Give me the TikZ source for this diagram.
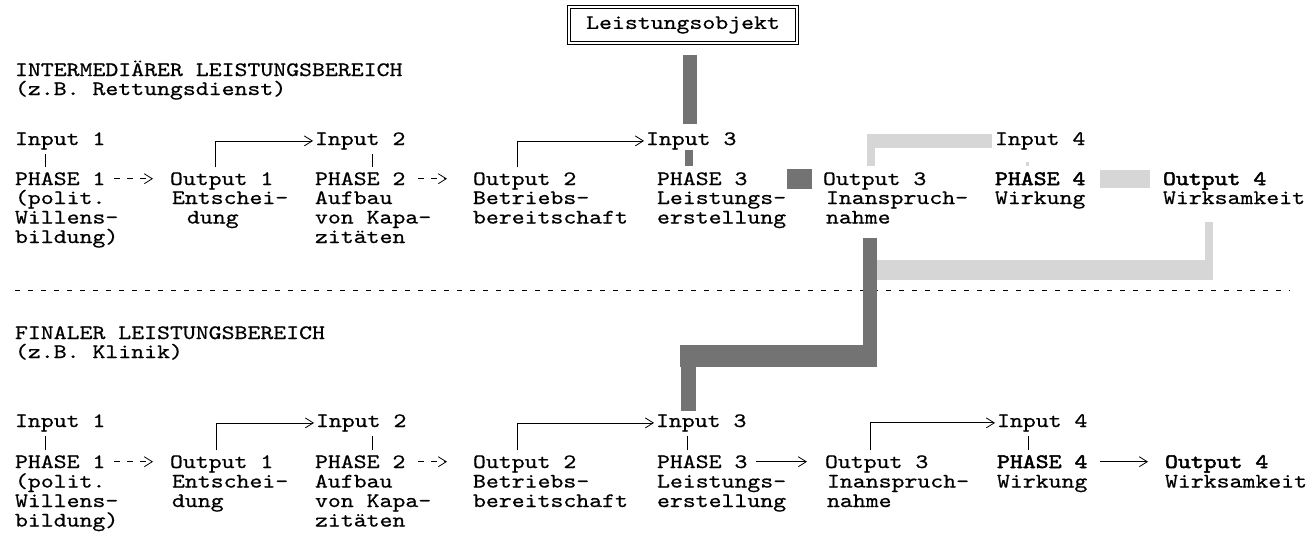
\documentclass[tikz,border=0pt]{standalone}
\usepackage{fontspec}
\newfontfamily\cour{lmmono10-regular.otf}[FakeStretch=1.2,FakeBold=0.6]
\newfontfamily\courb{lmmono10-regular.otf}[FakeStretch=1.2,FakeBold=2.4]
\usetikzlibrary{arrows.meta,calc}

\begin{document}
\begin{tikzpicture}[x=1pt,y=-1pt,
  >={Straight Barb[length=8pt,width=10pt]},
  fnt/.style={font=\cour\fontsize{20.5pt}{20pt}\selectfont},
  lbl/.style={fnt,anchor=base west,inner sep=0pt,outer sep=0pt},
  lblb/.style={lbl,font=\courb\fontsize{20.5pt}{20pt}\selectfont},
  wire/.style={line width=0.8pt,black},
  tick/.style={wire,shorten <=4pt,shorten >=5pt},
  elbow/.style={wire,->,shorten <=5pt,shorten >=2pt},
  dasharrow/.style={wire,->,dash pattern=on 6pt off 7pt},
  solidarrow/.style={wire,->},
  darkband/.style={black!55,line cap=butt},
  lightband/.style={black!16,line cap=butt},
  sepline/.style={line width=0.9pt,dash pattern=on 5pt off 8pt}
]
\useasboundingbox (0,0) rectangle (1315,542);

% ---------- object box ----------
\node[fnt,draw,double,double distance=2pt,line width=0.7pt,
      minimum width=228pt,minimum height=36pt,inner sep=0pt] (lo) at (683,25) {Leistungsobjekt};

% ---------- intermediate area ----------
\node[lbl] (t1)  at (15,76) {INTERMEDIÄRER LEISTUNGSBEREICH};
\node[lbl] (t1s) at (15,95) {(z.B. Rettungsdienst)};

\node[lbl] (in1) at (15,145)  {Input 1};
\node[lbl] (in2) at (315,145) {Input 2};
\node[lbl] (in3) at (646,145) {Input 3};
\node[lbl] (in4) at (995,145) {Input 4};

\node[lbl]  (ph1)  at (15,185)   {PHASE 1};
\node[lbl]  (out1) at (170,185)  {Output 1};
\node[lbl]  (ph2)  at (315,185)  {PHASE 2};
\node[lbl]  (out2) at (473,185)  {Output 2};
\node[lbl]  (ph3)  at (657,185)  {PHASE 3};
\node[lbl]  (out3) at (823,185)  {Output 3};
\node[lblb] (ph4)  at (995,185)  {PHASE 4};
\node[lblb] (out4) at (1163,185) {Output 4};

\node[lbl] (d1a) at (15,204)  {(polit.};
\node[lbl] (d1b) at (15,223.5)  {Willens-};
\node[lbl] (d1c) at (15,243)  {bildung)};
\node[lbl] (e1a) at (172,204) {Entschei-};
\node[lbl] (e1b) at (187,223.5) {dung};
\node[lbl] (d2a) at (315,204) {Aufbau};
\node[lbl] (d2b) at (315,223.5) {von Kapa-};
\node[lbl] (d2c) at (315,243) {zitäten};
\node[lbl] (e2a) at (473,204) {Betriebs-};
\node[lbl] (e2b) at (473,223.5) {bereitschaft};
\node[lbl] (d3a) at (657,204) {Leistungs-};
\node[lbl] (d3b) at (657,223.5) {erstellung};
\node[lbl] (e3a) at (826,204) {Inanspruch-};
\node[lbl] (e3b) at (826,223.5) {nahme};
\node[lbl] (d4a) at (995,204) {Wirkung};
\node[lbl] (e4a) at (1163,204) {Wirksamkeit};

% separator between the two areas
\coordinate (sepL) at (15,290);
\coordinate (sepR) at (1290,290);
\draw[sepline] (sepL) -- (sepR);

% ---------- final area ----------
\node[lbl] (t2)  at (15,339) {FINALER LEISTUNGSBEREICH};
\node[lbl] (t2s) at (15,358) {(z.B. Klinik)};

\node[lbl] (in1b) at (15,427)  {Input 1};
\node[lbl] (in2b) at (316,427) {Input 2};
\node[lbl] (in3b) at (656,427) {Input 3};
\node[lbl] (in4b) at (997,427) {Input 4};

\node[lbl]  (ph1b)  at (15,468)   {PHASE 1};
\node[lbl]  (out1b) at (170,468)  {Output 1};
\node[lbl]  (ph2b)  at (315,468)  {PHASE 2};
\node[lbl]  (out2b) at (473,468)  {Output 2};
\node[lbl]  (ph3b)  at (657,468)  {PHASE 3};
\node[lbl]  (out3b) at (825,468)  {Output 3};
\node[lblb] (ph4b)  at (997,468)  {PHASE 4};
\node[lblb] (out4b) at (1165,468) {Output 4};

\node[lbl] (d1ab) at (15,487.5)  {(polit.};
\node[lbl] (d1bb) at (15,507)  {Willens-};
\node[lbl] (d1cb) at (15,526.5)  {bildung)};
\node[lbl] (e1ab) at (172,487.5) {Entschei-};
\node[lbl] (e1bb) at (172,507) {dung};
\node[lbl] (d2ab) at (315,487.5) {Aufbau};
\node[lbl] (d2bb) at (315,507) {von Kapa-};
\node[lbl] (d2cb) at (315,526.5) {zitäten};
\node[lbl] (e2ab) at (473,487.5) {Betriebs-};
\node[lbl] (e2bb) at (473,507) {bereitschaft};
\node[lbl] (d3ab) at (657,487.5) {Leistungs-};
\node[lbl] (d3bb) at (657,507) {erstellung};
\node[lbl] (e3ab) at (827,487.5) {Inanspruch-};
\node[lbl] (e3bb) at (827,507) {nahme};
\node[lbl] (d4ab) at (997,487.5) {Wirkung};
\node[lbl] (e4ab) at (1165,487.5) {Wirksamkeit};

% ---------- shaded bands (drawn below the thin wires) ----------
\coordinate (lbend) at (1209,270);
\coordinate (dbend1) at (870,356);
\coordinate (dbend2) at (688,356);
% light band: Output 4 back down to the handover band
\draw[lightband,line width=8pt,shorten <=18pt] ([xshift=46pt]e4a.south west) -- ([yshift=-10pt]lbend);
\draw[lightband,line width=20pt] ([xshift=4pt]lbend) -- (lbend -| dbend1);
% light band: Output 3 to Input 4
\draw[lightband,line width=8pt,shorten <=6pt] ([xshift=48pt]out3.north west) -- ([xshift=48pt]out3.north west |- in4.west);
\draw[lightband,line width=14pt,shorten >=3pt] ([xshift=44pt]out3.north west |- in4.west) -- (in4.west);
\draw[lightband,line width=3pt,shorten <=12pt,shorten >=6pt] ([xshift=32pt]in4.south west) -- ([xshift=32pt]in4.south west |- ph4.north);
% light band: Phase 4 to Output 4
\draw[lightband,line width=18pt,shorten <=15pt,shorten >=13pt] (ph4.east) -- (ph4.east -| out4.west);

% dark bands: object into Phase 3
\coordinate (bar3) at ([xshift=44pt]in3.north west);
\draw[darkband,line width=14pt,shorten <=12pt,shorten >=8pt] (lo.south -| bar3) -- (bar3);
\draw[darkband,line width=8pt,shorten >=6pt] ([xshift=43pt]in3.south west) -- ([xshift=43pt]in3.south west |- ph3.north);
\draw[darkband,line width=20pt,shorten <=40pt,shorten >=11pt] (ph3.east) -- (ph3.east -| out3.west);
% dark band: Output 3 handed over to Input 3 of the final area
\draw[darkband,line width=14pt,shorten <=14pt] ([xshift=44pt]e3b.south west) -- ([yshift=-11pt]dbend1);
\draw[darkband,line width=22pt] ([xshift=7pt]dbend1) -- ([xshift=-8pt]dbend2);
\draw[darkband,line width=15pt,shorten >=3pt] (dbend2) -- (dbend2 |- in3b.north);

% ---------- wires, intermediate area ----------
\draw[tick] ([xshift=30pt]in1.south west) -- ([xshift=30pt]in1.south west |- ph1.north);
\draw[tick] ([xshift=57pt]in2.south west) -- ([xshift=57pt]in2.south west |- ph2.north);
\draw[elbow] ([xshift=45pt]out1.north west) |- (in2.west);
\draw[elbow] ([xshift=44pt]out2.north west) |- (in3.west);
\draw[dasharrow,shorten <=9pt,shorten >=17pt] (ph1.east) -- (ph1.east -| out1.west);
\draw[dasharrow,shorten <=13pt,shorten >=26pt] (ph2.east) -- (ph2.east -| out2.west);

% ---------- wires, final area ----------
\draw[tick] ([xshift=30pt]in1b.south west) -- ([xshift=30pt]in1b.south west |- ph1b.north);
\draw[tick] ([xshift=56pt]in2b.south west) -- ([xshift=56pt]in2b.south west |- ph2b.north);
\draw[tick] ([xshift=31pt]in3b.south west) -- ([xshift=31pt]in3b.south west |- ph3b.north);
\draw[tick] ([xshift=31pt]in4b.south west) -- ([xshift=31pt]in4b.south west |- ph4b.north);
\draw[elbow] ([xshift=46pt]out1b.north west) |- (in2b.west);
\draw[elbow] ([xshift=44pt]out2b.north west) |- (in3b.west);
\draw[elbow] ([xshift=45pt]out3b.north west) |- (in4b.west);
\draw[dasharrow,shorten <=9pt,shorten >=17pt] (ph1b.east) -- (ph1b.east -| out1b.west);
\draw[dasharrow,shorten <=13pt,shorten >=26pt] (ph2b.east) -- (ph2b.east -| out2b.west);
\draw[solidarrow,shorten <=9pt,shorten >=18pt] (ph3b.east) -- (ph3b.east -| out3b.west);
\draw[solidarrow,shorten <=13pt,shorten >=17pt] (ph4b.east) -- (ph4b.east -| out4b.west);
\end{tikzpicture}
\end{document}
